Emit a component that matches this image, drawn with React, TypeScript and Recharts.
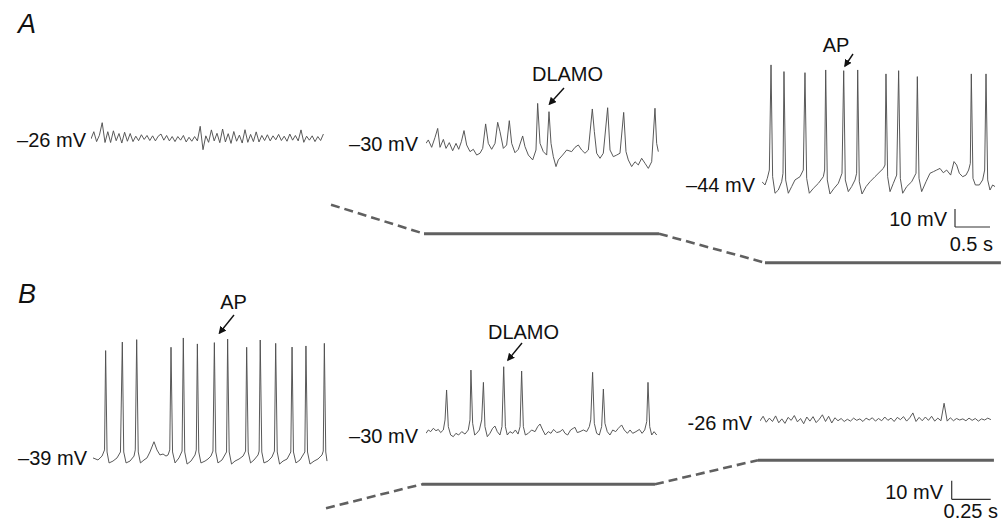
import React from 'react';
import { LineChart, Line, XAxis, YAxis, ReferenceLine } from 'recharts';

// ---------------- data ----------------
// Panel A, trace 1 (-26 mV), uniformly sampled
const a1SampleS = 0.04;
const a1Mv = [
  -26.5, -22.5, -28, -24.5, -17.5, -28.5, -22.5, -28.5, -22, -27.5, -23.5, -28.8, -22.8, -27.8, -23.5, -28, -25,
  -27.5, -24.2, -26.8, -24.6, -27.4, -24.8, -27.6, -25, -23.8, -27.2, -24.6, -27.6, -25.2, -28, -25.2, -27.2, -24.6, -28.2, -25.6, -27.8, -25.2, -27.6,
  -19.5, -32.5, -24.8, -28.4, -21.5, -27.6, -23.4, -28.6, -21, -28.2, -23.6, -29, -22.4, -27.8, -24.4, -28.8, -21.4, -28.4, -24, -28, -22.6,
  -28.2, -24.6, -27.4, -24.2, -27.6, -24.8, -27, -24, -27.4, -25, -27.8, -23.8, -27.2, -24.6, -27.6, -21.5, -28.4, -25, -27.2, -24.8, -28, -25.2, -27.4, -23.8,
];

// Panel A, trace 2 (-30 mV, DLAMOs)
const a2TimeS = [
  0, 0.033, 0.081, 0.129, 0.167, 0.2, 0.248, 0.286, 0.333, 0.381, 0.429, 0.467, 0.505, 0.543, 0.581, 0.629, 0.676, 0.724, 0.771, 0.81,
  0.852, 0.89, 0.938, 0.986, 1.024, 1.057, 1.105, 1.152, 1.19, 1.224, 1.271, 1.319, 1.381, 1.414, 1.462, 1.524, 1.571, 1.595, 1.629, 1.676,
  1.724, 1.757, 1.786, 1.819, 1.857, 1.89, 1.952, 2.01, 2.081, 2.129, 2.176, 2.224, 2.271, 2.319, 2.376, 2.405, 2.438, 2.486, 2.533, 2.595,
  2.629, 2.676, 2.724, 2.771, 2.824, 2.857, 2.89, 2.938, 2.986, 3.033, 3.081, 3.129, 3.176, 3.224, 3.271, 3.295, 3.319,
];
const a2Mv = [
  -30.2, -28.3, -32.4, -26.9, -21.9, -32.4, -28, -33, -29.8, -34.3, -30.2, -33.5, -29.3, -23.1, -31.1, -34.8, -33.5, -36.7, -35.7, -33,
  -19.4, -30.2, -33.5, -30.2, -18.5, -23.7, -33, -31.1, -17.6, -30.2, -35.4, -33.5, -26.1, -32, -36.7, -39.4, -33.9, -8, -30.2, -34.8,
  -36.7, -12.6, -30.2, -37.6, -43.1, -39.4, -36.7, -33.9, -34.8, -32.4, -31.1, -33.9, -35.7, -33.9, -11.1, -23.7, -35.7, -38.5, -35.7, -10.4,
  -33.9, -37.6, -36.7, -35.7, -13, -34.8, -39.4, -43.1, -40.4, -42.2, -38.5, -41.3, -44.1, -40.4, -10.7, -30.2, -34.8,
];

// Panel A, trace 3 (-44 mV, APs)
const a3TimeS = [
  0, 0.043, 0.076, 0.105, 0.129, 0.152, 0.186, 0.233, 0.281, 0.3, 0.314, 0.338, 0.376, 0.424, 0.471, 0.543, 0.59, 0.614, 0.638, 0.676,
  0.733, 0.805, 0.876, 0.895, 0.91, 0.933, 0.971, 1.029, 1.09, 1.143, 1.167, 1.19, 1.233, 1.281, 1.329, 1.352, 1.367, 1.39, 1.429, 1.486,
  1.543, 1.614, 1.686, 1.733, 1.757, 1.771, 1.795, 1.829, 1.876, 1.924, 1.952, 1.976, 2.01, 2.067, 2.138, 2.2, 2.219, 2.243, 2.281, 2.343,
  2.4, 2.448, 2.495, 2.543, 2.59, 2.638, 2.695, 2.743, 2.781, 2.819, 2.867, 2.914, 2.952, 2.976, 2.99, 3.014, 3.048, 3.105, 3.152, 3.181,
  3.2, 3.224, 3.257, 3.295, 3.329,
];
const a3Mv = [
  -43.3, -45.1, -41.4, -36.8, 21.6, -40.5, -49.7, -47.9, -43.3, -38.6, 17.9, -42.3, -49.7, -46, -42.3, -40.5, -36.8, 17.3, -41.4, -49.7,
  -47, -44.2, -40.5, -36.8, 18.8, -42.3, -50.1, -47, -44.2, -38.6, 18.4, -42.3, -48.8, -46, -42.3, -38.6, 18.8, -43.3, -50.1, -46,
  -43.3, -40.5, -37.7, -35.9, -34, 16.6, -40.5, -48.8, -44.2, -39.6, 18.4, -41.4, -49.7, -46, -43.3, -38.6, 15.1, -41.4, -48.8, -43.3,
  -38.6, -37.7, -36.8, -35.9, -38.3, -36.8, -39.6, -32.1, -34, -38.6, -40.5, -39.6, -36.8, -33.1, 16.6, -41.4, -45.1, -45.1, -42.3, -36.8,
  16.6, -42.3, -47.9, -45.1, -46,
];

// Panel B, trace 1 (-39 mV, APs)
const b1TimeS = [
  0, 0.032, 0.058, 0.074, 0.081, 0.09, 0.103, 0.128, 0.154, 0.176, 0.188, 0.197, 0.212, 0.237, 0.263, 0.271, 0.28, 0.29, 0.304, 0.327,
  0.346, 0.365, 0.391, 0.41, 0.429, 0.449, 0.468, 0.481, 0.492, 0.5, 0.51, 0.526, 0.551, 0.571, 0.579, 0.588, 0.603, 0.628, 0.654, 0.662,
  0.669, 0.678, 0.692, 0.718, 0.737, 0.756, 0.769, 0.778, 0.787, 0.801, 0.827, 0.856, 0.863, 0.873, 0.888, 0.91, 0.936, 0.962, 0.978, 0.985,
  0.995, 1.01, 1.032, 1.058, 1.065, 1.072, 1.082, 1.096, 1.122, 1.147, 1.163, 1.171, 1.181, 1.196, 1.218, 1.244, 1.268, 1.276, 1.285, 1.301,
  1.327, 1.358, 1.365, 1.375, 1.391, 1.417, 1.442, 1.468, 1.476, 1.483, 1.492, 1.5,
];
const b1Mv = [
  -39.5, -40.6, -38.5, -35.2, 18.2, -36.3, -42.2, -41.2, -39.5, -36.3, 22.8, -36.3, -42.2, -41.2, -38.5, -35.2, 24.1, -36.3, -42.2, -40.6,
  -39.5, -36.3, -30.8, -35.2, -37.9, -37.4, -38.5, -37.9, -35.2, 20, -36.3, -42.2, -39.5, -35.8, 25, -36.3, -42.8, -41.2, -37.9, -35.2,
  21.8, -36.3, -42.2, -41.2, -40.1, -38.5, -35.8, 22.5, -36.3, -42.2, -40.6, -36.3, 24.4, -36.3, -42.8, -41.2, -40.1, -38.5, -35.8, 20,
  -36.3, -42.2, -40.6, -37.9, -35.8, 23.9, -36.3, -42.2, -41.2, -39, -35.8, 22.1, -36.3, -42.8, -41.2, -40.1, -36.3, 20.1, -36.3, -42.2,
  -40.6, -36.3, 20.7, -36.3, -42.8, -41.2, -40.1, -37.9, -35.8, 22.1, -36.3, -41.2,
];

// Panel B, trace 2 (-30 mV, DLAMOs)
const b2TimeS = [
  0, 0.015, 0.03, 0.047, 0.064, 0.079, 0.094, 0.111, 0.122, 0.132, 0.143, 0.158, 0.175, 0.192, 0.209, 0.229, 0.25, 0.271, 0.282, 0.288,
  0.299, 0.312, 0.325, 0.342, 0.357, 0.368, 0.378, 0.393, 0.41, 0.427, 0.442, 0.457, 0.474, 0.487, 0.498, 0.509, 0.521, 0.538, 0.556, 0.573,
  0.59, 0.603, 0.613, 0.624, 0.637, 0.656, 0.677, 0.699, 0.716, 0.731, 0.748, 0.765, 0.784, 0.801, 0.818, 0.838, 0.859, 0.876, 0.891, 0.908,
  0.927, 0.944, 0.955, 0.97, 0.987, 1.009, 1.03, 1.047, 1.056, 1.068, 1.079, 1.094, 1.111, 1.126, 1.137, 1.147, 1.162, 1.179, 1.197, 1.216,
  1.233, 1.254, 1.271, 1.291, 1.308, 1.325, 1.346, 1.368, 1.385, 1.402, 1.415, 1.423, 1.434, 1.447, 1.462, 1.479,
];
const b2Mv = [
  -29.1, -27.3, -28.2, -26.4, -27.7, -27, -28.7, -27.3, -21.9, -5.8, -25.5, -30, -30.9, -29.1, -30, -28.2, -29.5, -27.3, -21.9, 4.9,
  -23.7, -30, -29.1, -27.3, -21.9, -1.7, -25.5, -30.9, -29.1, -26.4, -25.2, -28.2, -30, -25.5, 6.7, -25.5, -30, -28.2, -29.1, -27.3,
  -29.5, -25.5, 4.4, -25.5, -30, -29.1, -27.3, -28.2, -25.5, -24.1, -27.3, -30, -28.2, -29.1, -27, -28.7, -28.2, -27, -29.1, -30,
  -27.3, -26.4, -25.9, -28.7, -28.2, -27.3, -28.2, -25.5, -21.9, 3.7, -23.7, -29.1, -30, -25.5, -5.3, -23.7, -28.2, -30, -27.3, -28.2,
  -26.4, -24.6, -27.3, -29.1, -27.3, -29.1, -28.2, -27, -29.1, -27.3, -22.8, -1.7, -25.5, -30, -28.2, -30,
];

// Panel B, trace 3 (-26 mV), uniformly sampled
const b3SampleS = 0.02;
const b3Mv = [
  -26.5, -24.0, -27.2, -25.0, -26.8, -23.8, -27.5, -25.4, -27.8, -24.6, -26.2, -23.6, -27.0, -25.2, -28.0, -24.4, -26.6, -24.2, -27.4, -25.6,
  -23.2, -26.8, -24.0, -27.6, -24.8, -26.4, -25.2, -26.8, -25.6, -26.6, -25.0, -26.2, -25.4, -26.8, -25.0, -26.0, -24.8, -26.6, -25.2, -26.4,
  -24.4, -26.2, -25.0, -26.8, -24.6, -25.8, -24.2, -26.6, -24.8, -22.2, -26.8, -24.6, -26.4, -24.4, -26.2, -24.0, -26.6, -25.0, -26.4, -17.0,
  -26.6, -24.8, -26.4, -25.2, -26.0, -25.4, -26.4, -25.0, -26.2, -25.2, -26.6, -25.4, -26.0, -25.0, -25.8,
];

// resting-potential labels and holding (command) levels
const restLabelsA = ['–26 mV', '–30 mV', '–44 mV'];
const restLabelsB = ['–39 mV', '–30 mV', '-26 mV'];
const commandLevelsA = [-26, -30, -44];
const commandLevelsB = [-39, -30, -26];

// scale bars
const scaleA = { mv: 10, s: 0.5, mvLabel: '10 mV', sLabel: '0.5 s' };
const scaleB = { mv: 10, s: 0.25, mvLabel: '10 mV', sLabel: '0.25 s' };

// event annotations
const eventAP = 'AP';
const eventDLAMO = 'DLAMO';

// ---------------- layout ----------------
const W = 1001;
const H = 526;
const FONT = '"Liberation Sans", Arial, Helvetica, sans-serif';
const TRACE_COLOR = '#505050';
const CMD_COLOR = '#606060';

const pxA = { s: 70, mv: 1.8 };
const pxB = { s: 156, mv: 1.86 };

type TraceProps = {
  times: number[];
  mv: number[];
  x0: number;
  y0: number;
  vRef: number;
  px: { s: number; mv: number };
  top: number;
  bottom: number;
  width: number;
  scale?: { mv: number; s: number };
  scaleAt?: { x: number; y: number };
};

function Trace({ times, mv, x0, y0, vRef, px, top, bottom, width, scale, scaleAt }: TraceProps) {
  const data = times.map((t, i) => ({ t, v: mv[i] }));
  const height = bottom - top;
  const vMax = vRef + (y0 - top) / px.mv;
  const vMin = vRef - (bottom - y0) / px.mv;
  const tMax = width / px.s;
  let sb: { t: number; v: number } | null = null;
  if (scale && scaleAt) {
    sb = { t: (scaleAt.x - x0) / px.s, v: vRef + (y0 - scaleAt.y) / px.mv };
  }
  return (
    <div style={{ position: 'absolute', left: x0, top }}>
      <LineChart width={width} height={height} data={data} margin={{ top: 0, right: 0, bottom: 0, left: 0 }}>
        <XAxis type="number" dataKey="t" domain={[0, tMax]} hide allowDataOverflow />
        <YAxis type="number" domain={[vMin, vMax]} hide allowDataOverflow />
        <Line
          type="linear"
          dataKey="v"
          stroke={TRACE_COLOR}
          strokeWidth={0.95}
          dot={false}
          activeDot={false}
          isAnimationActive={false}
        />
        {sb && scale && (
          <ReferenceLine
            segment={[
              { x: sb.t, y: sb.v },
              { x: sb.t, y: sb.v + scale.mv },
            ]}
            stroke="#333"
            strokeWidth={1.2}
            ifOverflow="visible"
          />
        )}
        {sb && scale && (
          <ReferenceLine
            segment={[
              { x: sb.t, y: sb.v },
              { x: sb.t + scale.s, y: sb.v },
            ]}
            stroke="#333"
            strokeWidth={1.2}
            ifOverflow="visible"
          />
        )}
      </LineChart>
    </div>
  );
}

function CommandLine({ levels, xs, yTopRank, step }: { levels: number[]; xs: number[]; yTopRank: number; step: number }) {
  const sorted = [...levels].sort((a, b) => a - b);
  const r = levels.map((l) => sorted.indexOf(l));
  const maxRank = sorted.length - 1;
  const pad = 0.3;
  const top = yTopRank - pad * step;
  const height = (maxRank + 2 * pad) * step;
  const dashed = [
    [{ x: xs[0], r: r[0] }, { x: xs[1], r: r[1] }],
    [{ x: xs[2], r: r[1] }, { x: xs[3], r: r[2] }],
  ];
  const solid = [
    [{ x: xs[1], r: r[1] }, { x: xs[2], r: r[1] }],
    [{ x: xs[3], r: r[2] }, { x: xs[4], r: r[2] }],
  ];
  return (
    <div style={{ position: 'absolute', left: 0, top }}>
      <LineChart width={W} height={height} margin={{ top: 0, right: 0, bottom: 0, left: 0 }}>
        <XAxis type="number" dataKey="x" domain={[0, W]} hide allowDataOverflow />
        <YAxis type="number" dataKey="r" domain={[-pad, maxRank + pad]} hide allowDataOverflow />
        {dashed.map((d, i) => (
          <Line
            key={'d' + i}
            data={d}
            dataKey="r"
            type="linear"
            stroke={CMD_COLOR}
            strokeWidth={2.6}
            strokeDasharray="9 5"
            dot={false}
            activeDot={false}
            isAnimationActive={false}
          />
        ))}
        {solid.map((d, i) => (
          <Line
            key={'s' + i}
            data={d}
            dataKey="r"
            type="linear"
            stroke={CMD_COLOR}
            strokeWidth={3}
            dot={false}
            activeDot={false}
            isAnimationActive={false}
          />
        ))}
      </LineChart>
    </div>
  );
}

function RightLabel({ text, right, cy, size = 20 }: { text: string; right: number; cy: number; size?: number }) {
  return (
    <span
      style={{
        position: 'absolute',
        right: W - right,
        top: cy,
        transform: 'translateY(-50%)',
        fontSize: size,
        lineHeight: 1,
        whiteSpace: 'nowrap',
      }}
    >
      {text}
    </span>
  );
}

function CenterLabel({ text, cx, cy, size = 20 }: { text: string; cx: number; cy: number; size?: number }) {
  return (
    <span
      style={{
        position: 'absolute',
        left: cx,
        top: cy,
        transform: 'translate(-50%, -50%)',
        fontSize: size,
        lineHeight: 1,
        whiteSpace: 'nowrap',
      }}
    >
      {text}
    </span>
  );
}

function PanelLetter({ text, left, cy }: { text: string; left: number; cy: number }) {
  return (
    <span
      style={{
        position: 'absolute',
        left,
        top: cy,
        transform: 'translateY(-50%)',
        fontSize: 27,
        fontStyle: 'italic',
        lineHeight: 1,
      }}
    >
      {text}
    </span>
  );
}

const arrows = [
  { x1: 564, y1: 88, x2: 549.5, y2: 104 },
  { x1: 853, y1: 54, x2: 845, y2: 66 },
  { x1: 234, y1: 315, x2: 219.5, y2: 333 },
  { x1: 522, y1: 343, x2: 508, y2: 360 },
];

export default function App() {
  const a1Times = a1Mv.map((_, i) => +(i * a1SampleS).toFixed(3));
  const b3Times = b3Mv.map((_, i) => +(i * b3SampleS).toFixed(3));
  return (
    <div
      style={{
        position: 'absolute',
        left: 0,
        top: 0,
        width: W,
        height: H,
        background: '#fff',
        overflow: 'hidden',
        fontFamily: FONT,
        color: '#111',
      }}
    >
      {/* command (holding potential) schematics */}
      <CommandLine levels={commandLevelsA} xs={[331, 424, 659, 765, 1001]} yTopRank={205} step={29} />
      <CommandLine levels={commandLevelsB} xs={[326, 422, 655, 758, 994]} yTopRank={460} step={24} />

      {/* Panel A traces */}
      <Trace times={a1Times} mv={a1Mv} x0={91} y0={138} vRef={-26} px={pxA} top={112} bottom={160} width={236} />
      <Trace times={a2TimeS} mv={a2Mv} x0={426} y0={143} vRef={-30} px={pxA} top={95} bottom={176} width={236} />
      <Trace
        times={a3TimeS}
        mv={a3Mv}
        x0={762}
        y0={183}
        vRef={-44}
        px={pxA}
        top={55}
        bottom={232}
        width={238}
        scale={scaleA}
        scaleAt={{ x: 955, y: 227 }}
      />

      {/* Panel B traces */}
      <Trace times={b1TimeS} mv={b1Mv} x0={93} y0={457} vRef={-39} px={pxB} top={325} bottom={476} width={240} />
      <Trace times={b2TimeS} mv={b2Mv} x0={426} y0={435} vRef={-30} px={pxB} top={355} bottom={452} width={235} />
      <Trace
        times={b3Times}
        mv={b3Mv}
        x0={760}
        y0={420}
        vRef={-26}
        px={pxB}
        top={395}
        bottom={505}
        width={238}
        scale={scaleB}
        scaleAt={{ x: 951.7, y: 499.3 }}
      />

      {/* labels */}
      <PanelLetter text="A" left={18} cy={24} />
      <PanelLetter text="B" left={18} cy={294} />

      <RightLabel text={restLabelsA[0]} right={86} cy={139.5} />
      <RightLabel text={restLabelsA[1]} right={418} cy={143.5} />
      <RightLabel text={restLabelsA[2]} right={755} cy={185} />
      <RightLabel text={restLabelsB[0]} right={87} cy={458} />
      <RightLabel text={restLabelsB[1]} right={418} cy={436} />
      <RightLabel text={restLabelsB[2]} right={752} cy={423} />

      <CenterLabel text={eventDLAMO} cx={567.5} cy={74} />
      <CenterLabel text={eventAP} cx={836} cy={45} />
      <CenterLabel text={eventAP} cx={233.5} cy={302} />
      <CenterLabel text={eventDLAMO} cx={523.5} cy={331.5} />

      <RightLabel text={scaleA.mvLabel} right={947} cy={219} />
      <RightLabel text={scaleA.sLabel} right={993} cy={244} />
      <RightLabel text={scaleB.mvLabel} right={943} cy={491.5} />
      <RightLabel text={scaleB.sLabel} right={998} cy={511} />

      {/* annotation arrows */}
      <svg width={W} height={H} style={{ position: 'absolute', left: 0, top: 0, pointerEvents: 'none' }}>
        <defs>
          <marker id="ah" viewBox="0 0 10 10" refX="8" refY="5" markerWidth="5.5" markerHeight="5.5" orient="auto">
            <path d="M0,0 L10,5 L0,10 z" fill="#111" />
          </marker>
        </defs>
        {arrows.map((a, i) => (
          <line key={i} x1={a.x1} y1={a.y1} x2={a.x2} y2={a.y2} stroke="#111" strokeWidth={1.4} markerEnd="url(#ah)" />
        ))}
      </svg>
    </div>
  );
}
